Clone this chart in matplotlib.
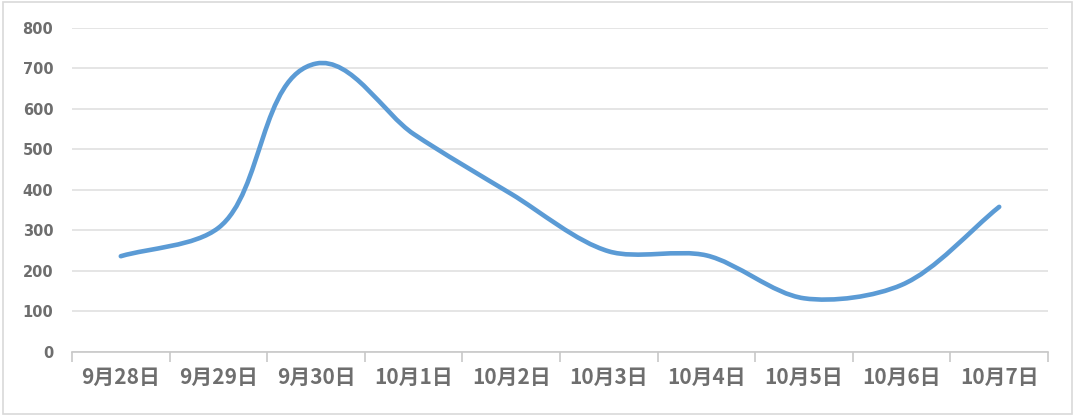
import numpy as np
import matplotlib
matplotlib.use("Agg")
from matplotlib import pyplot as plt
from matplotlib.path import Path
from matplotlib.patches import PathPatch, Rectangle

plt.rcParams['font.family'] = ['Noto Sans CJK SC', 'DejaVu Sans']

categories = ["9月28日", "9月29日", "9月30日", "10月1日", "10月2日",
              "10月3日", "10月4日", "10月5日", "10月6日", "10月7日"]
values = [236, 306, 712, 538, 390, 248, 238, 132, 165, 358]
y_ticks = [0, 100, 200, 300, 400, 500, 600, 700, 800]

LINE_COLOR = "#5b9bd5"
TEXT_COLOR = "#6e6e6e"
GRID_COLOR = "#e0e0e0"
AXIS_COLOR = "#c8c8c8"


def smooth_path(ax, xs, ys, t=0.3):
    # excel-like smoothing, worked out in screen space so the arms follow segment lengths
    pts = ax.transData.transform(np.column_stack([xs, ys]).astype(float))
    n = len(pts)
    tangents = []
    for i in range(n):
        if i == 0 or i == n - 1:
            d = pts[min(i + 1, n - 1)] - pts[max(i - 1, 0)]
        else:
            a = pts[i] - pts[i - 1]
            b = pts[i + 1] - pts[i]
            d = a / np.hypot(*a) + b / np.hypot(*b)
        tangents.append(d / np.hypot(*d))
    verts = [pts[0]]
    codes = [Path.MOVETO]
    for i in range(n - 1):
        seg = np.hypot(*(pts[i + 1] - pts[i]))
        c1 = pts[i] + tangents[i] * seg * t
        c2 = pts[i + 1] - tangents[i + 1] * seg * t
        verts += [c1, c2, pts[i + 1]]
        codes += [Path.CURVE4] * 3
    verts = ax.transData.inverted().transform(np.array(verts))
    return Path(verts, codes)


def main():

    fig = plt.figure(figsize=(10.8, 4.19), dpi=100)
    ax = fig.add_axes([72 / 1080, 1 - 351.7 / 419, (1048 - 72) / 1080, (351.7 - 28) / 419])

    ax.set_xlim(-0.5, len(categories) - 0.5)
    ax.set_ylim(0, 800)

    x = np.arange(len(categories))
    patch = PathPatch(smooth_path(ax, x, values), fill=False, edgecolor=LINE_COLOR,
                      lw=3.3, capstyle='round', joinstyle='round', zorder=3)
    ax.add_patch(patch)

    ax.set_yticks(y_ticks)
    ax.set_yticklabels([str(v) for v in y_ticks])
    ax.yaxis.grid(True, color=GRID_COLOR, lw=1.2)
    ax.set_axisbelow(True)

    ax.set_xticks(x)
    ax.set_xticklabels(categories)
    ax.set_xticks(np.arange(len(categories) + 1) - 0.5, minor=True)

    ax.tick_params(axis='y', length=0, pad=13.5, labelsize=10.5, labelcolor=TEXT_COLOR)
    ax.tick_params(axis='x', which='major', length=0, pad=11, labelsize=15, labelcolor=TEXT_COLOR)
    ax.tick_params(axis='x', which='minor', length=7, width=1.2, color=AXIS_COLOR, direction='out')

    for lbl in ax.get_xticklabels():
        lbl.set_fontweight('bold')
    for lbl in ax.get_yticklabels():
        lbl.set_fontweight('bold')
        lbl.set_family('DejaVu Sans')

    for side in ['top', 'right', 'left']:
        ax.spines[side].set_visible(False)
    ax.spines['bottom'].set_color(AXIS_COLOR)
    ax.spines['bottom'].set_linewidth(1.2)

    # outer frame around the chart area
    frame = Rectangle((3 / 1080, 5 / 419), 1069 / 1080, 412 / 419, transform=fig.transFigure,
                      fill=False, edgecolor="#d9d9d9", lw=1.2)
    fig.patches.append(frame)

    fig.savefig("out.png", dpi=100, facecolor="white")


if __name__ == '__main__':

    main()
